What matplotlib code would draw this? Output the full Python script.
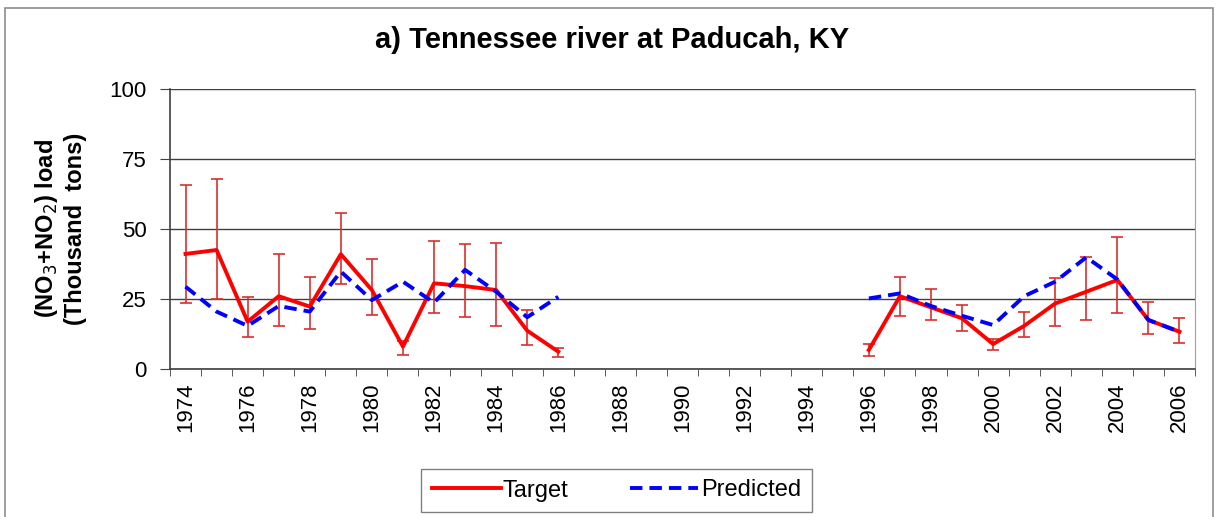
import numpy as np
import matplotlib.pyplot as plt
from matplotlib.patches import Rectangle

plt.rcParams['font.family'] = ['Liberation Sans', 'DejaVu Sans']

nan = np.nan
years = list(range(1974, 2007))

# NO3+NO2 load (thousand tons); gaps are years without data
target = [41.1, 42.5, 16.9, 26.0, 22.3, 41.0, 28.2, 8.0, 30.6, 29.6, 28.2, 13.7, 6.2,
          nan, nan, nan, nan, nan, nan, nan, nan, nan,
          6.8, 26.0, 22.0, 18.1, 8.9, 15.4, 23.4, 27.6, 31.8, 17.5, 13.3]
target_low = [23.7, 24.9, 11.3, 15.5, 14.3, 30.4, 19.3, 4.9, 19.9, 18.5, 15.5, 8.6, 4.4,
              nan, nan, nan, nan, nan, nan, nan, nan, nan,
              4.6, 19.0, 17.5, 13.6, 6.8, 11.3, 15.4, 17.5, 20.1, 12.5, 9.4]
target_high = [65.7, 67.9, 25.6, 41.0, 32.7, 55.6, 39.2, 10.0, 45.7, 44.6, 44.9, 21.0, 7.4,
               nan, nan, nan, nan, nan, nan, nan, nan, nan,
               8.8, 32.7, 28.4, 22.9, 10.6, 20.5, 32.4, 40.1, 47.1, 24.0, 18.3]
predicted = [29.4, 20.5, 15.4, 22.5, 20.5, 34.8, 24.6, 31.2, 23.7, 35.4, 27.6, 18.5, 25.8,
             nan, nan, nan, nan, nan, nan, nan, nan, nan,
             25.2, 27.0, 22.5, 19.0, 15.7, 26.0, 31.2, 39.9, 32.0, 17.5, 13.3]

target = np.array(target)
err = [target - np.array(target_low), np.array(target_high) - target]
x = np.arange(len(years))

W, H = 1219, 517
fig = plt.figure(figsize=(W / 100, H / 100), dpi=100)
ax = fig.add_axes([170 / W, 1 - 369 / H, 1025 / W, 280 / H])

# chart area frame
fig.patches.append(Rectangle((5 / W, -0.05), 1208 / W, 1.05 - 8 / H,
                             transform=fig.transFigure, fill=False,
                             edgecolor='#8c8c8c', linewidth=1.2))

ax.errorbar(x, target, yerr=err, fmt='none', ecolor='#d9302c',
            elinewidth=1.2, capsize=4, capthick=1.2, zorder=3)
ax.plot(x, target, color='#ff0000', linewidth=2.8, label='Target', zorder=4)
ax.plot(x, predicted, color='#0000ff', linewidth=2.8, linestyle=(0, (3.2, 1.8)),
        label='Predicted', zorder=5)

ax.set_xlim(-0.5, len(years) - 0.5)
ax.set_ylim(0, 100)
ax.set_yticks([0, 25, 50, 75, 100])
ax.yaxis.grid(True, color='#404040', linewidth=1.0)
ax.set_axisbelow(True)

ax.set_xticks(x[::2])
ax.set_xticklabels([str(y) for y in years[::2]], rotation=90, fontsize=16)
ax.set_xticks(np.arange(-0.5, len(years), 1), minor=True)
ax.tick_params(axis='x', which='major', length=0, pad=10)
ax.tick_params(axis='x', which='minor', length=5, color='#404040')
ax.tick_params(axis='y', length=7, color='#404040', labelsize=16, pad=10)

for side in ['left', 'bottom']:
    ax.spines[side].set_color('#404040')
    ax.spines[side].set_linewidth(1.2)
ax.spines['right'].set_color('#a0a0a0')
ax.spines['top'].set_visible(False)

fig.text(60 / W, 1 - 229 / H, '(NO$_3$+NO$_2$) load\n(Thousand  tons)',
         rotation=90, ha='center', va='center', fontsize=17,
         fontweight='bold', linespacing=1.25, multialignment='center')

fig.text(612 / W, 1 - 47.7 / H, 'a) Tennessee river at Paducah, KY',
         ha='center', va='baseline', fontsize=21, fontweight='bold')

leg = fig.legend(loc='center', bbox_to_anchor=(616.5 / W, 1 - 490.5 / H),
                 ncol=2, fontsize=17, frameon=True, fancybox=False,
                 edgecolor='#606060', handlelength=2.9, handletextpad=0.1,
                 columnspacing=2.6, borderpad=0.45)
leg.get_frame().set_linewidth(1.0)

fig.savefig('out.png', dpi=100)
